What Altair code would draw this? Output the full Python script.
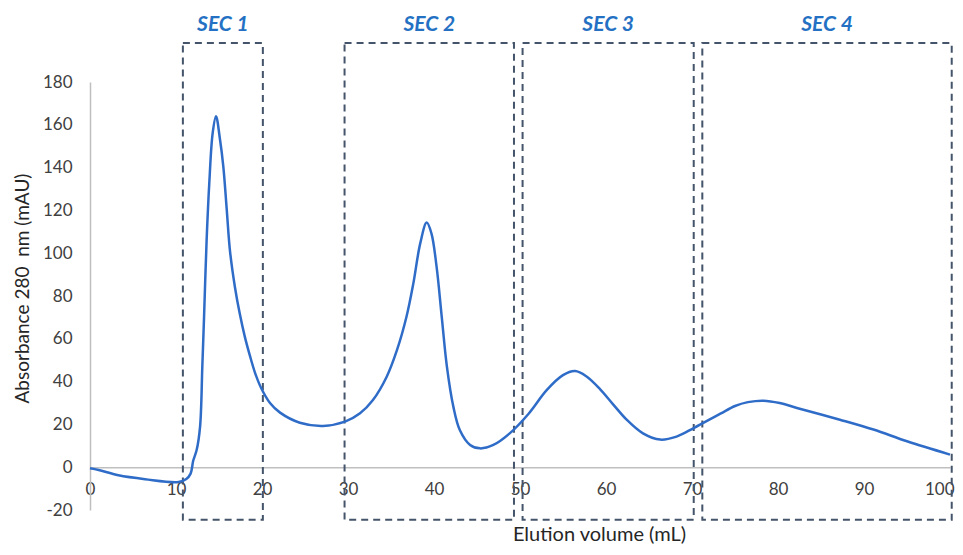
import altair as alt
import pandas as pd

# Chromatogram trace
vol = [0, 1, 3.3, 6.4, 10.3, 11.2, 11.7, 12.0, 12.4, 12.8, 13.06, 13.26, 13.56, 13.87, 14.26,
       14.65, 15.12, 15.5, 15.9, 16.28, 16.86, 17.4, 18.0, 18.6, 19.2, 19.9, 20.93, 22.1,
       24.4, 27.1, 29.65, 31.4, 32.9, 34.5, 35.7, 36.8, 37.6, 38.4, 39.15, 39.7, 40.3,
       40.9, 41.5, 42.25, 43.0, 44.2, 45.35, 46.9, 48.8, 51.0, 53.1, 55.0, 56.4, 57.7,
       59.3, 60.8, 62.4, 64.3, 66.3, 68.2, 70.2, 73.3, 75.0, 76.5, 78.3, 80.2, 82.2,
       87.2, 91.1, 95.0, 100.0]
absorb = [-0.5, -1.3, -3.8, -5.6, -6.9, -5.5, -3.0, 3.0, 8.0, 19.0, 47.0, 70.0, 106.0, 132.7,
          156.0, 164.0, 153.0, 140.6, 120.4, 101.0, 84.0, 72.0, 61.0, 52.0, 44.0, 37.0, 30.0,
          25.5, 20.8, 19.3, 21.3, 25.2, 31.4, 42.3, 54.8, 70.3, 85.9, 104.6, 114.3, 109.3,
          93.7, 70.3, 47.0, 28.3, 17.4, 10.4, 8.8, 10.4, 15.8, 25.0, 36.0, 43.0, 44.9, 42.5,
          36.5, 29.5, 22.2, 15.8, 12.9, 14.3, 18.3, 25.0, 28.6, 30.4, 31.1, 30.0, 27.7,
          22.2, 17.6, 12.1, 5.9]

# SEC fraction boxes
sec_names = ["SEC 1", "SEC 2", "SEC 3", "SEC 4"]
sec_start = [10.8, 29.6, 50.3, 71.2]
sec_end = [20.1, 49.3, 70.2, 100.2]
box_top = [198.2, 198.2, 198.2, 198.2]
box_bottom = [-24.6, -24.6, -24.6, -24.6]
label_y = [206.6, 206.6, 206.6, 206.6]

y_ticks = [-20, 0, 20, 40, 60, 80, 100, 120, 140, 160, 180]
x_ticks = [0, 10, 20, 30, 40, 50, 60, 70, 80, 90, 100]

trace = pd.DataFrame({"vol": vol, "abs": absorb})
boxes = pd.DataFrame({
    "name": sec_names, "x1": sec_start, "x2": sec_end,
    "y1": box_bottom, "y2": box_top, "ly": label_y,
})
boxes["xc"] = (boxes["x1"] + boxes["x2"]) / 2

FONT = "Lato"
xscale = alt.Scale(domain=[0, 100], nice=False, zero=False)
yscale = alt.Scale(domain=[-20, 180], nice=False, zero=False)

H = 428
W = 860

line = alt.Chart(trace).mark_line(
    interpolate="catmull-rom", color="#2F6CC8", strokeWidth=2.5
).encode(
    x=alt.X("vol:Q", scale=xscale, axis=alt.Axis(
        values=x_ticks, offset=-H * 20 / 200, ticks=False, grid=False,
        domainColor="#BFBFBF", domainWidth=1.5, labelFlush=False,
        labelAlign={"condition": {"test": "datum.value == 100", "value": "right"},
                    "value": "center"},
        labelOffset={"condition": {"test": "datum.value == 100", "value": 4},
                     "value": 0},
        labelFont=FONT, labelFontSize=17, labelColor="#404040", labelPadding=14,
        title="Elution volume (mL)", titleFont=FONT, titleFontSize=20,
        titleFontWeight="normal", titleColor="#262626",
        titleX=509, titleY=67, titleBaseline="middle", titleAlign="center",
    )),
    y=alt.Y("abs:Q", scale=yscale, axis=alt.Axis(
        values=y_ticks, ticks=False, grid=False,
        domainColor="#BFBFBF", domainWidth=1.5,
        labelExpr="'' + datum.value",
        labelFont=FONT, labelFontSize=17, labelColor="#404040", labelPadding=18,
        title="Absorbance 280\u00a0 nm (mAU)", titleFont=FONT, titleFontSize=19,
        titleFontWeight="normal", titleColor="#262626",
        titleX=-68, titleY=206, titleBaseline="middle", titleAlign="center",
        titleAngle=270,
    )),
)

rects = alt.Chart(boxes).mark_rect(
    filled=False, stroke="#44546A", strokeWidth=2, strokeDash=[7, 5], clip=False
).encode(
    x=alt.X("x1:Q", scale=xscale),
    x2="x2:Q",
    y=alt.Y("y1:Q", scale=yscale),
    y2="y2:Q",
)

labels = alt.Chart(boxes).mark_text(
    font=FONT, fontSize=21, fontWeight="bold", fontStyle="italic",
    color="#2471C4", baseline="middle", align="center", clip=False
).encode(
    x=alt.X("xc:Q", scale=xscale),
    y=alt.Y("ly:Q", scale=yscale),
    text="name:N",
)

chart = alt.layer(rects, line, labels).properties(
    width=W, height=H,
    autosize=alt.AutoSizeParams(type="none"),
    padding={"left": 82, "top": 74, "right": 5, "bottom": 37},
).configure_view(strokeWidth=0)

chart.save("out.html", embed_options={"renderer": "svg", "actions": False})
